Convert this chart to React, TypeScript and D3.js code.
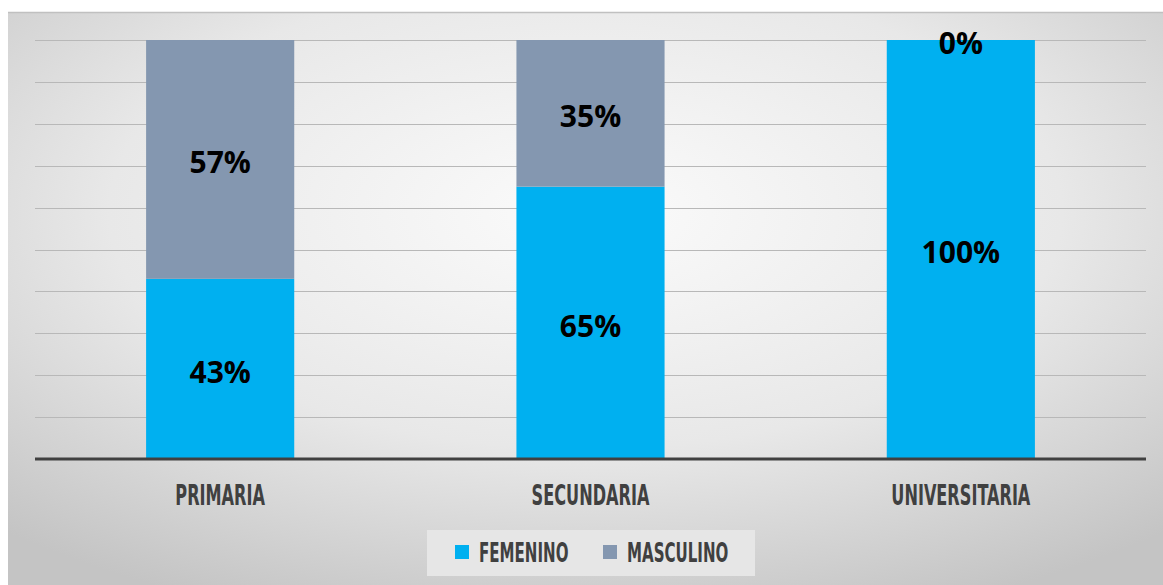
import React from "react";
import * as d3 from "d3";

const categories = ["PRIMARIA", "SECUNDARIA", "UNIVERSITARIA"];
const femenino = [43, 65, 100];
const masculino = [57, 35, 0];
const seriesNames = ["FEMENINO", "MASCULINO"];
const seriesColors = ["#00B0F0", "#8497B0"];
const yTicks = [0, 10, 20, 30, 40, 50, 60, 70, 80, 90, 100];

const W = 1163;
const H = 585;
const plotLeft = 35;
const plotRight = 1146;
const plotTop = 40;
const plotBottom = 459;

export default function App() {
  const x = d3.scaleBand<string>().domain(categories).range([plotLeft, plotRight]).paddingInner(0.6).paddingOuter(0.3);
  const y = d3.scaleLinear().domain([0, 100]).range([plotBottom, plotTop]);

  const table = categories.map((c, i) => ({ cat: c, FEMENINO: femenino[i], MASCULINO: masculino[i] }));
  const stacked = d3.stack<any>().keys(seriesNames)(table);

  const labelFont = "'DejaVu Sans Condensed', 'Liberation Sans Narrow', sans-serif";

  return (
    <svg width={W} height={H} style={{ position: "absolute", left: 0, top: 0 }}>
      <defs>
        <radialGradient id="bg" cx="50%" cy="35%" r="75%">
          <stop offset="0%" stopColor="#fbfbfb" />
          <stop offset="55%" stopColor="#e8e8e8" />
          <stop offset="100%" stopColor="#c4c4c4" />
        </radialGradient>
      </defs>
      <rect x={0} y={0} width={W} height={H} fill="#ffffff" />
      <rect x={8} y={12} width={W - 8} height={H - 12} fill="url(#bg)" />
      <line x1={8} x2={W} y1={12.5} y2={12.5} stroke="#c0c0c0" strokeWidth={1.5} />
      {yTicks.slice(1).map((t) => (
        <line key={t} x1={plotLeft} x2={plotRight} y1={Math.round(y(t)) + 0.5} y2={Math.round(y(t)) + 0.5} stroke="#b8b8b8" strokeWidth={1.2} />
      ))}
      {stacked.map((s, si) =>
        s.map((d, i) => {
          const y0 = y(d[0]);
          const y1 = y(d[1]);
          return (
            <rect key={si + "-" + i} x={x(categories[i])} y={y1} width={x.bandwidth()} height={Math.max(0, y0 - y1)} fill={seriesColors[si]} />
          );
        })
      )}
      <line x1={plotLeft} x2={plotRight} y1={plotBottom} y2={plotBottom} stroke="#404040" strokeWidth={3} />
      {stacked.map((s, si) =>
        s.map((d, i) => {
          const cy = (y(d[0]) + y(d[1])) / 2 + 3;
          return (
            <text key={"l" + si + "-" + i} x={(x(categories[i]) as number) + x.bandwidth() / 2} y={cy} dy="0.36em" textAnchor="middle"
              fontFamily="'Open Sans', 'Noto Sans', sans-serif" fontWeight={700} fontSize={30} fill="#000000">
              {(d[1] - d[0]) + "%"}
            </text>
          );
        })
      )}
      {categories.map((c) => {
        const cx = (x(c) as number) + x.bandwidth() / 2;
        return (
          <text key={c} transform={`translate(${cx},${505}) scale(0.64,1)`} textAnchor="middle" fontFamily={labelFont} fontWeight={700} fontSize={28} fill="#404040">
            {c}
          </text>
        );
      })}
      <rect x={427} y={530} width={328} height={46} fill="#e6e6e6" />
      {seriesNames.map((n, i) => {
        const lx = [455, 603][i];
        return (
          <g key={n}>
            <rect x={lx} y={545} width={14} height={14} fill={seriesColors[i]} />
            <text transform={`translate(${lx + 24},${562}) scale(0.62,1)`} fontFamily={labelFont} fontWeight={700} fontSize={27} fill="#404040">
              {n}
            </text>
          </g>
        );
      })}
    </svg>
  );
}
